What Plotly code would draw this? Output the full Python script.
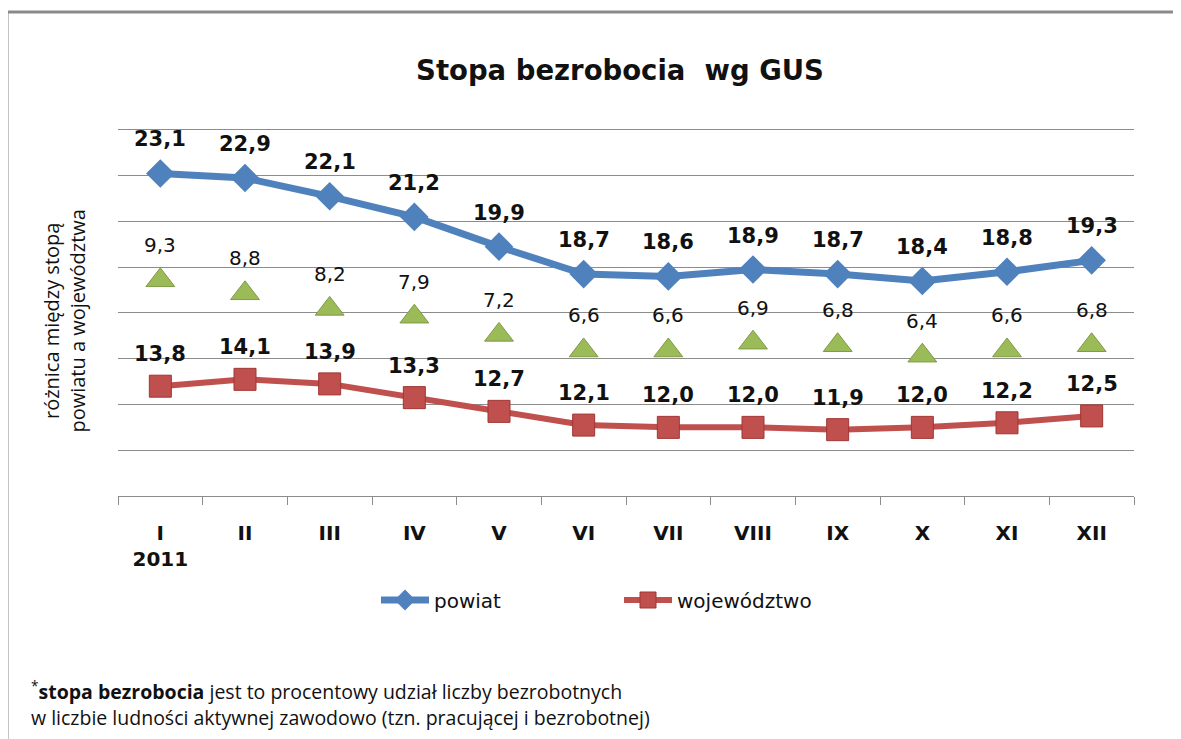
import plotly.graph_objects as go

months = ["I", "II", "III", "IV", "V", "VI", "VII", "VIII", "IX", "X", "XI", "XII"]
tick_labels = ["I<br>2011", "II", "III", "IV", "V", "VI", "VII", "VIII", "IX", "X", "XI", "XII"]
powiat = [23.1, 22.9, 22.1, 21.2, 19.9, 18.7, 18.6, 18.9, 18.7, 18.4, 18.8, 19.3]
wojewodztwo = [13.8, 14.1, 13.9, 13.3, 12.7, 12.1, 12.0, 12.0, 11.9, 12.0, 12.2, 12.5]
roznica = [9.3, 8.8, 8.2, 7.9, 7.2, 6.6, 6.6, 6.9, 6.8, 6.4, 6.6, 6.8]

BLUE = "#4f81bd"
RED = "#c0504d"
GREEN = "#9bbb59"
GRID = "#8c8c8c"
FONT = "DejaVu Sans"

def fmt(v):
    return f"{v:.1f}".replace(".", ",")

fig = go.Figure()
fig.add_trace(go.Scatter(
    x=months, y=powiat, name="powiat", mode="lines+markers",
    line=dict(color=BLUE, width=7),
    marker=dict(symbol="diamond", size=22, color=BLUE, line=dict(width=0)),
))
fig.add_trace(go.Scatter(
    x=months, y=wojewodztwo, name="województwo", mode="lines+markers",
    line=dict(color=RED, width=6),
    marker=dict(symbol="square", size=22, color=RED, line=dict(color="#a03533", width=1)),
))
fig.add_trace(go.Scatter(
    x=months, y=roznica, name="różnica", mode="markers", yaxis="y2", showlegend=False,
    marker=dict(symbol="triangle-up", size=25, color=GREEN, line=dict(color="#7f9a45", width=1)),
))

annotations = []
for m, v in zip(months, powiat):
    annotations.append(dict(x=m, y=v, xref="x", yref="y", text=fmt(v), showarrow=False,
                            yshift=34, font=dict(family=FONT, size=21, color="#111111", weight="bold")))
for m, v in zip(months, wojewodztwo):
    annotations.append(dict(x=m, y=v, xref="x", yref="y", text=fmt(v), showarrow=False,
                            yshift=32, font=dict(family=FONT, size=21, color="#111111", weight="bold")))
for m, v in zip(months, roznica):
    annotations.append(dict(x=m, y=v, xref="x", yref="y2", text=fmt(v), showarrow=False,
                            yshift=35, font=dict(family=FONT, size=20, color="#111111")))

# y-axis title (rotated, two lines)
annotations.append(dict(
    x=(65 - 118) / 1016, y=(496 - 322) / 366, xref="paper", yref="paper", textangle=-90,
    xanchor="center", yanchor="middle",
    text="różnica między stopą<br>powiatu a województwa", showarrow=False,
    font=dict(family="Open Sans", size=20, color="#111111"), align="center",
))
# footnote
annotations.append(dict(
    x=(29 - 118) / 1016, y=(496 - 702) / 366, xref="paper", yref="paper", xanchor="left", yanchor="middle",
    text="<sup>*</sup><b>stopa bezrobocia</b> jest to procentowy udział liczby bezrobotnych<br>"
         "w liczbie ludności aktywnej zawodowo (tzn. pracującej i bezrobotnej)",
    showarrow=False, align="left",
    font=dict(family="Open Sans", size=19.5, color="#111111"),
))

x_left = (7 - 118) / 1016
y_top = (496 - 12) / 366
y_bot = (496 - 760) / 366
x_right = (1200 - 118) / 1016

# the page body adds an 8px offset, so margins are reduced by 8px
fig.update_layout(
    width=1181, height=739,
    margin=dict(l=110, r=55, t=119, b=251),
    paper_bgcolor="white", plot_bgcolor="white",
    title=dict(text="Stopa bezrobocia\u00a0\u00a0wg GUS", x=(620 - 118) / 1016, xref="paper",
               y=1 - 62 / 739, yanchor="middle", xanchor="center",
               font=dict(family=FONT, size=27.5, color="#111111", weight="bold")),
    xaxis=dict(
        type="category", tickmode="array", tickvals=months, ticktext=tick_labels,
        showline=True, linecolor=GRID, linewidth=1, showgrid=False,
        ticks="outside", tickson="boundaries", ticklen=8, tickcolor=GRID,
        ticklabelstandoff=19,
        tickfont=dict(family=FONT, size=20, color="#111111", weight="bold"),
        range=[-0.5, 11.5],
    ),
    yaxis=dict(range=[9, 25.13], tick0=1, dtick=2, showticklabels=False, showgrid=True,
               gridcolor=GRID, gridwidth=1, zeroline=False, showline=False, ticks=""),
    yaxis2=dict(range=[1, 15.2], overlaying="y", visible=False),
    legend=dict(orientation="h", x=(619 - 118) / 1016, xanchor="center",
                y=(496 - 600) / 369, yanchor="middle",
                font=dict(family=FONT, size=20, color="#111111"),
                entrywidth=180, itemwidth=48),
    showlegend=True,
    annotations=annotations,
    shapes=[dict(type="path", xref="paper", yref="paper",
                 path=f"M {x_right} {(496 - 12) / 369} L {x_left} {(496 - 12) / 369} L {x_left} {y_bot}",
                 line=dict(color="#8a8a8a", width=3))],
)

fig.write_html("out.html")
